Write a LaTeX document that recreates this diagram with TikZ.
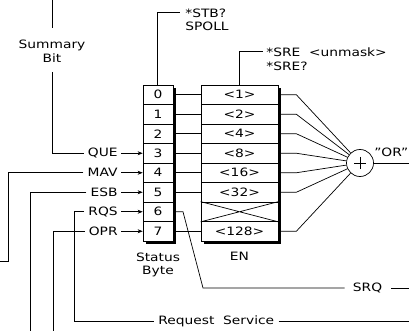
\documentclass[tikz,border=0pt]{standalone}
\usepackage{fontspec}
\setmainfont[FakeStretch=1.2]{DejaVu Sans}
\usetikzlibrary{arrows.meta}
\begin{document}
\begin{tikzpicture}[x=1pt,y=-1pt,line width=0.7pt,
  font=\fontsize{11.5}{13.5}\selectfont,
  lbl/.style={inner sep=0pt},
  scell/.style={draw,fill=white,minimum width=30pt,minimum height=19.5pt,inner sep=0pt},
  ecell/.style={draw,fill=white,minimum width=77pt,minimum height=19.5pt,inner sep=0pt},
  inarrow/.style={-{Stealth[length=5pt,width=4pt]}}]
\useasboundingbox (0,0) rectangle (409,331);
% shadows
\fill (146,88) rectangle (176,244);
\fill (204,88) rectangle (281,244);
% status byte cells
\foreach \i in {0,...,7}{
  \node[scell] (s\i) at (158,{94.75+19.5*\i}) {\i};
}
% enable cells
\foreach \i/\t in {0/<1>,1/<2>,2/<4>,3/<8>,4/<16>,5/<32>,6/{},7/<128>}{
  \node[ecell] (e\i) at (239.5,{94.75+19.5*\i}) {\t};
}
\draw (e6.north west) -- (e6.south east) (e6.south west) -- (e6.north east);
% status -> enable
\foreach \i in {0,1,2,3,4,5,7}{
  \draw (s\i.east) -- (e\i.west);
}
% OR gate
\node[draw,circle,fill=white,minimum size=27pt,inner sep=0pt] (or) at (360,163) {};
\draw (354,163) -- (366,163) (360,157) -- (360,169);
\foreach \i in {0,1,2,3,4,5,7}{
  \draw (e\i.east) -- ++(18,0) -- (or);
}
\coordinate (orout) at (409,163);
\draw (or) -- (orout);
\node[lbl,anchor=east] (ortxt) at (408.5,152) {\char"22 OR\char"22};
% labels under boxes
\node[lbl,align=center] (sb) at (158,265) {Status\\Byte};
\node[lbl] (en) at (239.5,256) {EN};
% top connectors
\node[lbl,anchor=west,align=left] (stb) at (185,20) {*STB?\\SPOLL};
\coordinate (stbc) at (157,12);
\draw (s0.north -| stbc) -- (stbc) -- (180,12);
\node[lbl,anchor=west,align=left] (sre) at (266,59) {*SRE\ \ <unmask>\\*SRE?};
\coordinate (srec) at (239,51);
\draw (e0.north -| srec) -- (srec) -- (263,51);
% inputs
\foreach \i/\t in {3/QUE,4/MAV,5/ESB,6/RQS,7/OPR}{
  \node[lbl,anchor=east] (in\i) at (118,{94.75+19.5*\i}) {\t};
  \draw[inarrow] (in\i.east) ++(3,0) -- (s\i.west);
}
% summary bit
\node[lbl,align=center] (sum) at (52,51) {Summary\\Bit};
\coordinate (sumtop) at (52,0);
\draw (sumtop) -- (52,28);
\draw (52,72) -- (52,153.25) -- ([xshift=-4pt]in3.west);
% MAV
\coordinate (mavend) at (0,261);
\draw ([xshift=-4pt]in4.west) -- (8,172.75) -- (8,261) -- (mavend);
% ESB
\draw ([xshift=-4pt]in5.west) -- (30,192.25) -- (30,331);
% OPR
\draw ([xshift=-4pt]in7.west) -- (53,231.25) -- (53,331);
% RQS / request service
\node[lbl,anchor=west] (rs) at (158,321) {Request\ \ Service};
\draw ([xshift=-4pt]in6.west) -- (74,211.75) -- (74,321) -- ([xshift=-4pt]rs.west);
\draw ([xshift=4pt]rs.east) -- (409,321);
% SRQ
\node[lbl] (srq) at (367.5,288) {SRQ};
\draw (s6.east) -- (183,211.75) -- (203,288) -- ([xshift=-8pt]srq.west);
\draw ([xshift=9pt]srq.east) -- (409,288);
\end{tikzpicture}
\end{document}
